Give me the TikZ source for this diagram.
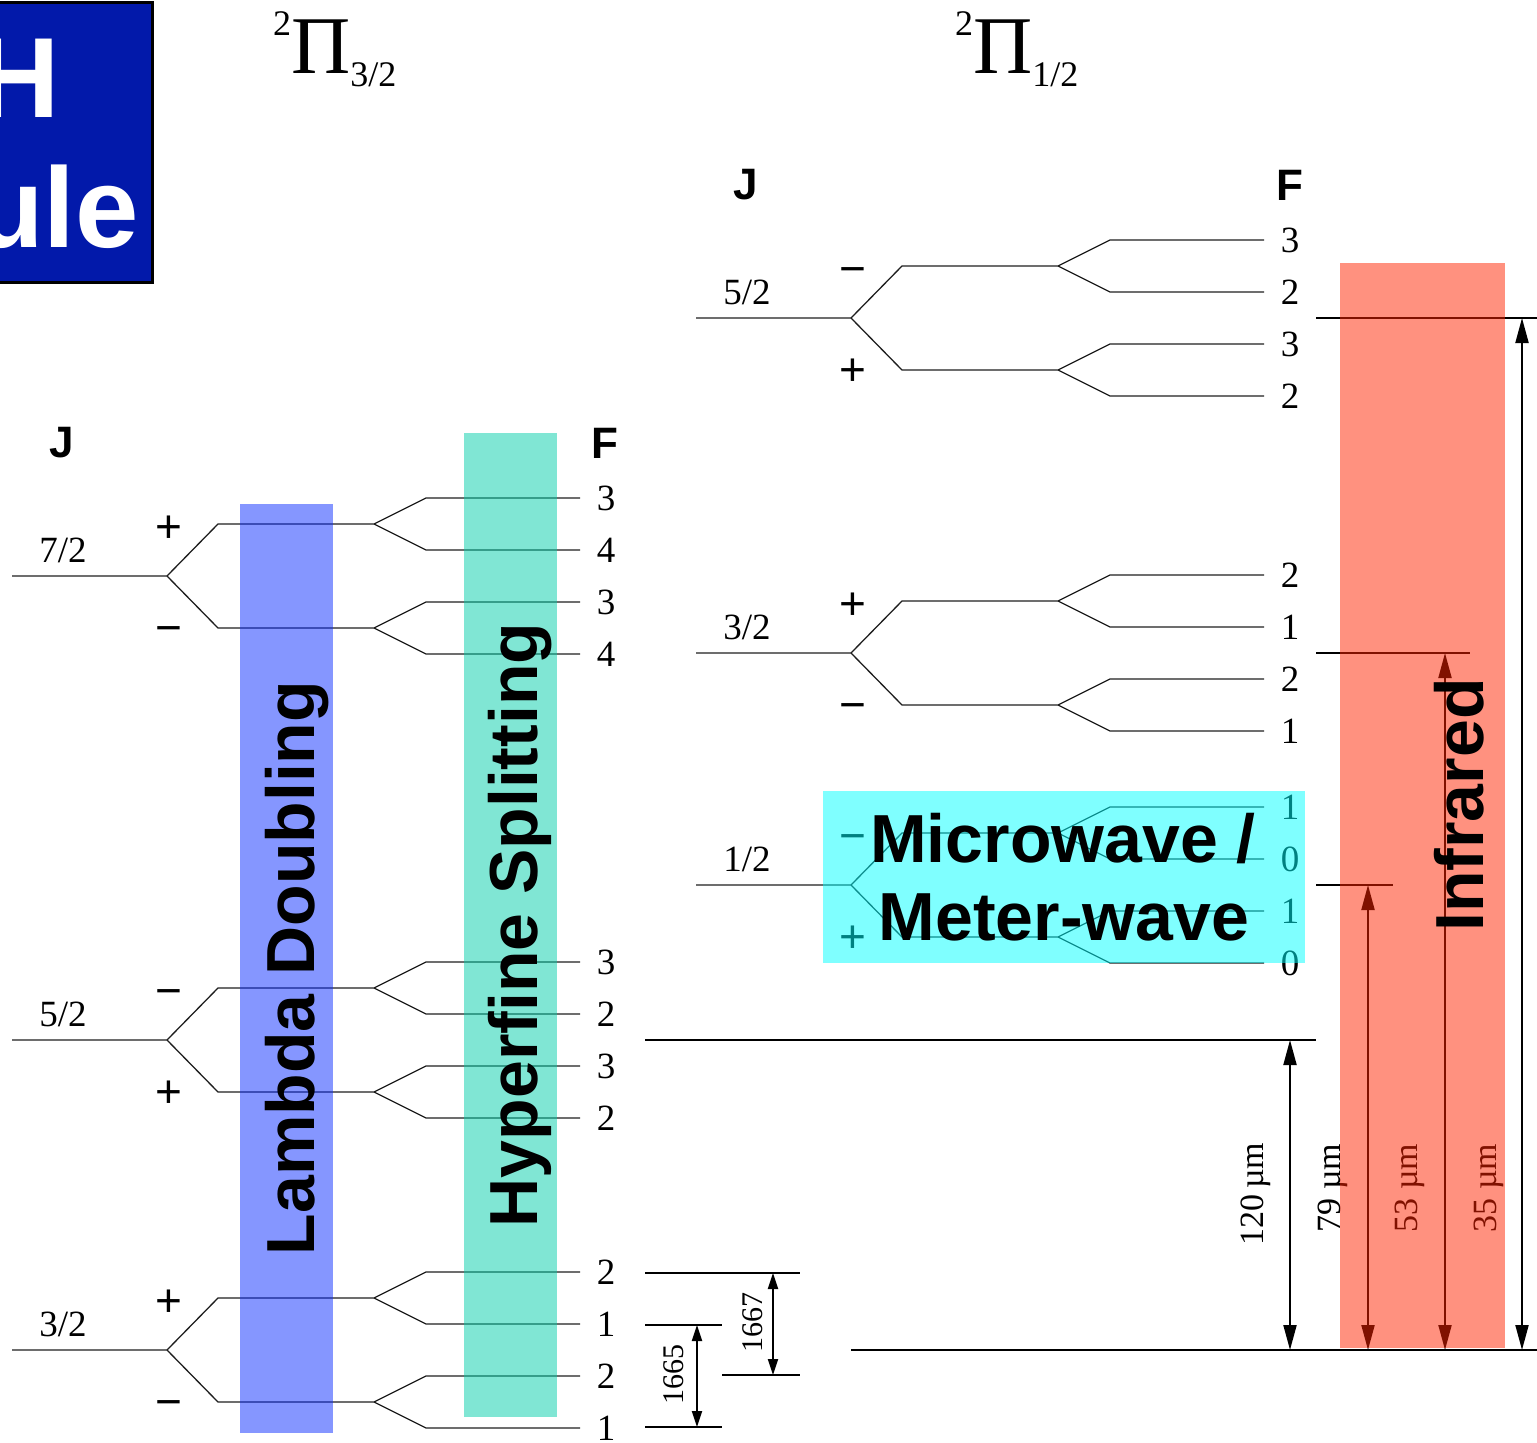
\documentclass[tikz,border=0pt]{standalone}
\usepackage{fontspec}
\setmainfont{Liberation Serif}
\setsansfont{Liberation Sans}
\usetikzlibrary{arrows.meta}
\definecolor{lvlc}{RGB}{30,30,30}
\definecolor{blueband}{RGB}{11,45,255}
\definecolor{greenband}{RGB}{1,205,169}
\definecolor{cyanband}{RGB}{0,255,255}
\definecolor{redband}{RGB}{255,35,0}
\definecolor{titleblue}{RGB}{2,25,170}
\newcommand\fs[1]{\fontsize{#1}{#1}\selectfont}
\newcount\lvlno
% #1 branch x, #2 level y, #3 J label, #4 top sign, #5 bottom sign, #6-#9 F labels top to bottom
\newcommand\lvlblock[9]{%
  \global\advance\lvlno by 1
  \edef\pfx{L\the\lvlno}%
  \draw[lvl] (#1-155,#2) -- (#1,#2) -- (#1+51,#2-52) -- (#1+207,#2-52) -- (#1+259,#2-78) -- (#1+413,#2-78);
  \draw[lvl] (#1+207,#2-52) -- (#1+259,#2-26) -- (#1+413,#2-26);
  \draw[lvl] (#1,#2) -- (#1+51,#2+52) -- (#1+207,#2+52) -- (#1+259,#2+26) -- (#1+413,#2+26);
  \draw[lvl] (#1+207,#2+52) -- (#1+259,#2+78) -- (#1+413,#2+78);
  \node[num] (\pfx j) at (#1-104,#2-26) {#3};
  \node[pm] (\pfx t) at (#1+2,#2-34) {#4};
  \node[pm] (\pfx b) at (#1+2,#2+67) {#5};
  \node[num] (\pfx f1) at (#1+439,#2-78) {#6};
  \node[num] (\pfx f2) at (#1+439,#2-26) {#7};
  \node[num] (\pfx f3) at (#1+439,#2+26) {#8};
  \node[num] (\pfx f4) at (#1+439,#2+78) {#9};
}
\begin{document}
\begin{tikzpicture}[x=1pt,y=-1pt,
  lvl/.style={draw=lvlc,line width=1.3pt},
  refline/.style={draw=black,line width=2.2pt},
  dimarrow/.style={line width=2pt,{Triangle[length=25pt,width=13pt]}-{Triangle[length=25pt,width=13pt]}},
  smalldim/.style={line width=2pt,{Triangle[length=16pt,width=10pt]}-{Triangle[length=16pt,width=10pt]}},
  num/.style={font=\fs{37}, inner sep=0pt},
  pm/.style={font=\sffamily\fs{46}, inner sep=0pt, anchor=base},
  hdr/.style={font=\sffamily\bfseries\fs{44}, inner sep=0pt},
  band/.style={fill opacity=0.5, draw=none},
  bigtxt/.style={font=\sffamily\bfseries\fs{68}, inner sep=0pt},
  dimlbl/.style={font=\fs{34}, inner sep=0pt, rotate=90, anchor=base},
  titletxt/.style={font=\sffamily\bfseries\fs{114}, inner sep=0pt, anchor=base east},
]
\useasboundingbox (0,0) rectangle (1537,1443);

% title box (clipped)
\begin{scope}
  \clip (-10,2) rectangle (152,282);
  \fill[titleblue] (-10,2) rectangle (152,282);
  \node[titletxt, text=white] (titleH) at (60,117) {H};
  \node[titletxt, text=white] (titleU) at (139,247) {ule};
\end{scope}
\draw[line width=3pt] (-10,2) -- (152,2) -- (152,282) -- (-10,282);

% state labels
\node[anchor=base west, inner sep=0pt, font=\fs{82}] (pi32) at (273,73)
  {\raisebox{0.46em}{\fs{36}2}Π\raisebox{-0.17em}{\fs{36}3/2}};
\node[anchor=base west, inner sep=0pt, font=\fs{82}] (pi12) at (955,73)
  {\raisebox{0.46em}{\fs{36}2}Π\raisebox{-0.17em}{\fs{36}1/2}};

% headers
\node[hdr] (jleft) at (62,443) {J};
\node[hdr] (fleft) at (605,443) {F};
\node[hdr] (jright) at (746,185) {J};
\node[hdr] (fright) at (1290,185) {F};

% level blocks
\lvlblock{167}{576}{7/2}{+}{−}{3}{4}{3}{4}
\lvlblock{167}{1040}{5/2}{−}{+}{3}{2}{3}{2}
\lvlblock{167}{1350}{3/2}{+}{−}{2}{1}{2}{1}
\lvlblock{851}{318}{5/2}{−}{+}{3}{2}{3}{2}
\lvlblock{851}{653}{3/2}{+}{−}{2}{1}{2}{1}
\lvlblock{851}{885}{1/2}{−}{+}{1}{0}{1}{0}

% reference lines
\coordinate (r1040a) at (645,1040); \coordinate (r1040b) at (1316,1040);
\coordinate (r1350a) at (851,1350); \coordinate (r1350b) at (1537,1350);
\coordinate (r318a) at (1316,318);  \coordinate (r318b) at (1537,318);
\coordinate (r653a) at (1316,653);  \coordinate (r653b) at (1470,653);
\coordinate (r885a) at (1316,885);  \coordinate (r885b) at (1393,885);
\coordinate (s1273a) at (645,1273); \coordinate (s1273b) at (800,1273);
\coordinate (s1375a) at (722,1375); \coordinate (s1375b) at (800,1375);
\coordinate (s1325a) at (645,1325); \coordinate (s1325b) at (722,1325);
\coordinate (s1427a) at (645,1427); \coordinate (s1427b) at (722,1427);
\foreach \a/\b in {r1040a/r1040b,r1350a/r1350b,r318a/r318b,r653a/r653b,r885a/r885b,
  s1273a/s1273b,s1375a/s1375b,s1325a/s1325b,s1427a/s1427b}
  \draw[refline] (\a) -- (\b);

% dimension arrows
\coordinate (a1665t) at (697,1325); \coordinate (a1665b) at (697,1427);
\coordinate (a1667t) at (773,1273); \coordinate (a1667b) at (773,1375);
\coordinate (a120t) at (1290,1040); \coordinate (a120b) at (1290,1350);
\coordinate (a79t) at (1368,885);   \coordinate (a79b) at (1368,1350);
\coordinate (a53t) at (1445,653);   \coordinate (a53b) at (1445,1350);
\coordinate (a35t) at (1522,318);   \coordinate (a35b) at (1522,1350);
\draw[smalldim] (a1665t) -- (a1665b);
\draw[smalldim] (a1667t) -- (a1667b);
\draw[dimarrow] (a120t) -- (a120b);
\draw[dimarrow] (a79t) -- (a79b);
\draw[dimarrow] (a53t) -- (a53b);
\draw[dimarrow] (a35t) -- (a35b);

\node[dimlbl, font=\fs{30}] (l1665) at (683,1374) {1665};
\node[dimlbl, font=\fs{30}] (l1667) at (762,1322) {1667};
\node[dimlbl] (l120) at (1263,1194) {120\,µm};
\node[dimlbl] (l79) at (1340,1188) {79 µm};
\node[dimlbl] (l53) at (1417,1188) {53 µm};
\node[dimlbl] (l35) at (1496,1188) {35 µm};

% translucent bands
\fill[band, blueband] (240,504) rectangle (333,1433);
\fill[band, greenband] (464,433) rectangle (557,1417);
\fill[band, cyanband] (823,791) rectangle (1305,963);
\fill[band, redband] (1340,263) rectangle (1505,1348);

% band labels
\node[bigtxt, rotate=90, anchor=base] (lambda) at (314,968) {Lambda Doubling};
\node[bigtxt, rotate=90, anchor=base] (hyper) at (537,925) {Hyperfine Splitting};
\node[bigtxt, rotate=90, anchor=base] (infra) at (1483,805) {Infrared};
\node[bigtxt, anchor=base] (micro) at (1063,862) {Microwave /};
\node[bigtxt, anchor=base] (meter) at (1064,940) {Meter-wave};
\end{tikzpicture}
\end{document}
